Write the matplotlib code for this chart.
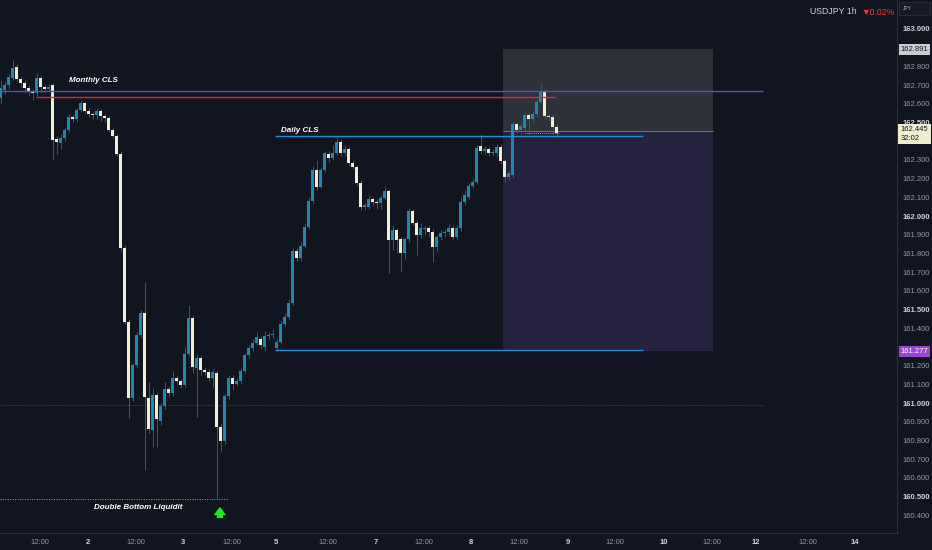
import matplotlib.pyplot as plt
from matplotlib.patches import Rectangle
import numpy as np

plt.rcParams['font.family'] = ['Liberation Sans', 'DejaVu Sans']

# hourly USDJPY candles
opens = [162.631, 162.675, 162.700, 162.738, 162.797, 162.733, 162.711, 162.684, 162.668, 162.658,
         162.738, 162.690, 162.681, 162.701, 162.412, 162.391, 162.417, 162.460, 162.529, 162.519,
         162.567, 162.604, 162.561, 162.545, 162.540, 162.561, 162.535, 162.524, 162.460, 162.428,
         162.332, 161.829, 161.433, 161.027, 161.203, 161.364, 161.481, 161.027, 160.856, 161.043,
         160.904, 160.984, 161.075, 161.053, 161.134, 161.118, 161.096, 161.262, 161.455, 161.187,
         161.241, 161.176, 161.166, 161.134, 161.160, 160.872, 160.797, 161.037, 161.134, 161.102,
         161.118, 161.171, 161.257, 161.294, 161.321, 161.342, 161.299, 161.358, 161.364, 161.294,
         161.326, 161.422, 161.460, 161.535, 161.813, 161.775, 161.840, 161.941, 162.080, 162.246,
         162.155, 162.246, 162.332, 162.310, 162.337, 162.396, 162.337, 162.358, 162.283, 162.262,
         162.176, 162.048, 162.048, 162.091, 162.075, 162.070, 162.096, 162.134, 161.872, 161.925,
         161.877, 161.802, 161.877, 162.027, 161.963, 161.898, 161.930, 161.936, 161.914, 161.834,
         161.888, 161.909, 161.914, 161.936, 161.888, 161.936, 162.075, 162.100, 162.160, 162.182,
         162.374, 162.348, 162.358, 162.337, 162.337, 162.369, 162.294, 162.209, 162.219, 162.492,
         162.460, 162.471, 162.540, 162.519, 162.545, 162.610, 162.668, 162.535, 162.529, 162.476]
closes = [162.684, 162.700, 162.743, 162.791, 162.733, 162.711, 162.684, 162.668, 162.658, 162.738,
          162.690, 162.681, 162.690, 162.406, 162.396, 162.417, 162.460, 162.529, 162.519, 162.567,
          162.604, 162.561, 162.545, 162.540, 162.561, 162.535, 162.524, 162.460, 162.428, 162.332,
          161.829, 161.433, 161.027, 161.203, 161.364, 161.481, 161.032, 160.861, 161.043, 160.914,
          160.984, 161.075, 161.053, 161.134, 161.118, 161.096, 161.262, 161.455, 161.193, 161.241,
          161.176, 161.166, 161.134, 161.166, 160.872, 160.797, 161.037, 161.134, 161.102, 161.118,
          161.171, 161.257, 161.294, 161.321, 161.353, 161.310, 161.358, 161.364, 161.370, 161.326,
          161.422, 161.460, 161.535, 161.813, 161.775, 161.840, 161.941, 162.080, 162.246, 162.155,
          162.246, 162.337, 162.310, 162.337, 162.396, 162.337, 162.358, 162.283, 162.262, 162.176,
          162.048, 162.059, 162.091, 162.075, 162.070, 162.096, 162.134, 161.872, 161.925, 161.872,
          161.802, 161.877, 162.027, 161.963, 161.898, 161.936, 161.936, 161.914, 161.834, 161.888,
          161.909, 161.914, 161.936, 161.888, 161.936, 162.075, 162.112, 162.160, 162.182, 162.364,
          162.348, 162.358, 162.337, 162.342, 162.369, 162.294, 162.209, 162.230, 162.492, 162.460,
          162.481, 162.540, 162.519, 162.545, 162.610, 162.668, 162.535, 162.529, 162.476, 162.444]
highs = [162.727, 162.720, 162.760, 162.834, 162.815, 162.745, 162.725, 162.700, 162.680, 162.765,
         162.750, 162.700, 162.705, 162.712, 162.430, 162.440, 162.470, 162.545, 162.540, 162.580,
         162.620, 162.612, 162.575, 162.555, 162.580, 162.570, 162.545, 162.535, 162.470, 162.440,
         162.345, 161.845, 161.450, 161.215, 161.380, 161.495, 161.647, 161.110, 161.080, 161.060,
         161.000, 161.110, 161.090, 161.170, 161.150, 161.130, 161.300, 161.524, 161.470, 161.260,
         161.255, 161.190, 161.180, 161.180, 161.175, 160.890, 161.050, 161.150, 161.150, 161.135,
         161.185, 161.270, 161.310, 161.345, 161.380, 161.360, 161.385, 161.380, 161.395, 161.340,
         161.440, 161.480, 161.555, 161.830, 161.830, 161.860, 161.960, 162.100, 162.270, 162.300,
         162.260, 162.350, 162.345, 162.380, 162.422, 162.410, 162.380, 162.370, 162.300, 162.275,
         162.190, 162.070, 162.110, 162.100, 162.090, 162.110, 162.160, 162.145, 161.950, 161.935,
         161.890, 161.890, 162.045, 162.040, 161.975, 161.960, 161.950, 161.950, 161.930, 161.900,
         161.925, 161.930, 161.955, 161.950, 161.950, 162.100, 162.140, 162.175, 162.200, 162.380,
         162.440, 162.375, 162.370, 162.360, 162.385, 162.385, 162.305, 162.245, 162.505, 162.505,
         162.495, 162.555, 162.555, 162.560, 162.625, 162.711, 162.680, 162.545, 162.545, 162.490]
lows = [162.604, 162.650, 162.680, 162.725, 162.720, 162.690, 162.660, 162.640, 162.620, 162.640,
        162.660, 162.665, 162.670, 162.299, 162.330, 162.360, 162.400, 162.450, 162.505, 162.505,
        162.555, 162.550, 162.530, 162.520, 162.520, 162.510, 162.505, 162.450, 162.415, 162.320,
        161.810, 161.420, 160.920, 161.010, 161.190, 161.350, 160.642, 160.840, 160.765, 160.765,
        160.880, 160.970, 161.030, 161.040, 161.100, 161.080, 161.085, 161.250, 161.160, 160.925,
        161.150, 161.150, 161.120, 161.080, 160.492, 160.740, 160.780, 161.020, 161.070, 161.090,
        161.100, 161.160, 161.245, 161.280, 161.310, 161.290, 161.285, 161.345, 161.350, 161.280,
        161.315, 161.410, 161.450, 161.525, 161.760, 161.760, 161.830, 161.930, 162.070, 162.140,
        162.150, 162.235, 162.290, 162.300, 162.325, 162.320, 162.320, 162.270, 162.250, 162.160,
        162.030, 162.030, 162.035, 162.060, 162.040, 162.040, 162.085, 161.695, 161.820, 161.800,
        161.700, 161.770, 161.860, 161.950, 161.790, 161.880, 161.900, 161.890, 161.754, 161.815,
        161.870, 161.890, 161.900, 161.870, 161.875, 161.920, 162.060, 162.090, 162.150, 162.170,
        162.330, 162.330, 162.320, 162.320, 162.320, 162.280, 162.180, 162.195, 162.205, 162.445,
        162.440, 162.455, 162.440, 162.500, 162.530, 162.600, 162.520, 162.510, 162.440, 162.430]

# time axis (positions in bar units)
tick_pos = [9.8, 21.75, 33.8, 45.65, 57.75, 68.75, 81.75, 93.75, 105.75, 117.6,
            129.65, 141.75, 153.65, 165.75, 177.75, 188.8, 201.75, 213.65]
tick_labels = ['12:00', '2', '12:00', '3', '12:00', '5', '12:00', '7', '12:00', '8',
               '12:00', '9', '12:00', '10', '12:00', '12', '12:00', '14']
price_ticks = [160.4, 160.5, 160.6, 160.7, 160.8, 160.9, 161.0, 161.1, 161.2, 161.3,
               161.4, 161.5, 161.6, 161.7, 161.8, 161.9, 162.0, 162.1, 162.2, 162.3,
               162.4, 162.5, 162.6, 162.7, 162.8, 162.9, 163.0]
hidden_ticks = [161.3, 162.4, 162.9]   # covered by the price tags

# drawn levels
monthly_cls = 162.668
red_level = 162.636
daily_cls = 162.428
low_level = 161.285
entry = 162.455
box_top = 162.891
box_bottom = 161.277
dotted_level = 160.989
double_bottom = 160.487
last_price = 162.445

bg = '#10151f'
up_col = '#1f88b0'
down_col = '#f1eed2'
wick_col = '#4a5263'
axis_line = '#2a2e39'

fig = plt.figure(figsize=(9.32, 5.5), dpi=100, facecolor=bg)
ax = fig.add_axes([0, 17 / 550, 897 / 932, 533 / 550])
ax.set_facecolor(bg)
ax.set_xlim(-0.175, 224.1)
ax.set_ylim(160.305, 163.155)

# position tool boxes
ax.add_patch(Rectangle((125.6, entry), 52.5, box_top - entry, facecolor='#ffffff', alpha=0.12, lw=0, zorder=1))
ax.add_patch(Rectangle((125.6, box_bottom), 52.5, entry - box_bottom, facecolor='#7e57c2', alpha=0.2, lw=0, zorder=1))
ax.hlines(entry, 125.6, 178.1, color='#9a9aa8', lw=0.7, alpha=0.7, zorder=2)

# candles
x = np.arange(len(opens))
o = np.array(opens)
c = np.array(closes)
cols = [up_col if cc >= oo else down_col for oo, cc in zip(o, c)]
ax.vlines(x, lows, highs, color=wick_col, lw=0.7, zorder=3)
ax.bar(x, np.maximum(np.abs(c - o), 0.006), bottom=np.minimum(o, c), width=0.75, color=cols, lw=0, zorder=4)

# level lines
ax.hlines(monthly_cls, -0.2, 190.6, color='#5a4ed0', lw=1.0, zorder=5)
ax.hlines(red_level, 8.8, 138.8, color='#e8233a', lw=1.0, zorder=5)
ax.hlines(daily_cls, 68.6, 160.6, color='#1f8fd6', lw=1.0, zorder=5)
ax.hlines(low_level, 68.6, 160.6, color='#1f8fd6', lw=1.0, zorder=5)
ax.hlines(dotted_level, -0.2, 190.6, color='#5d6270', lw=0.6, linestyles=(0, (1, 2)), zorder=2)
ax.hlines(double_bottom, -0.2, 56.8, color='#9ea2ad', lw=0.7, linestyles=(0, (1, 1.5)), zorder=5)
ax.hlines(last_price, 131, 139.5, color='#c8c6b0', lw=0.6, linestyles=(0, (1, 1.5)), zorder=5)

txt = dict(color='white', fontsize=5.8, fontstyle='italic', fontweight='bold', zorder=6)
ax.text(17.0, 162.725, 'Monthly CLS', ha='left', va='center', **txt)
ax.text(70.0, 162.455, 'Daily CLS', ha='left', va='center', **txt)
ax.text(34.5, 160.44, 'Double Bottom Liquidit', ha='center', va='center', **txt)

ax.annotate('', xy=(54.8, 160.46), xytext=(54.8, 160.37),
            arrowprops=dict(arrowstyle='simple,head_width=0.9,head_length=0.6,tail_width=0.45',
                            color='#22e622', lw=0), zorder=6)

# axes styling
for s in ['top', 'left']:
    ax.spines[s].set_visible(False)
for s in ['right', 'bottom']:
    ax.spines[s].set_color(axis_line)
    ax.spines[s].set_linewidth(0.8)

ax.yaxis.tick_right()
ax.set_yticks(price_ticks)
ax.set_yticklabels(['' if p in hidden_ticks else f'{p:.3f}' for p in price_ticks])
ax.tick_params(axis='y', length=0, pad=4, labelsize=5.5, colors='#9598a1')
for lab, p in zip(ax.get_yticklabels(), price_ticks):
    if abs(p * 2 - round(p * 2)) < 1e-6:
        lab.set_fontweight('bold')
        lab.set_color('#d1d4dc')

ax.set_xticks(tick_pos)
ax.set_xticklabels(tick_labels)
ax.tick_params(axis='x', length=0, pad=4, labelsize=5.5, colors='#9598a1')
for lab in ax.get_xticklabels():
    if lab.get_text() != '12:00':
        lab.set_fontweight('bold')
        lab.set_color('#d1d4dc')

# price axis tags
yt = ax.get_yaxis_transform()
ax.text(1.004, box_top, f'{box_top:.3f}', transform=yt, ha='left', va='center', fontsize=5.5,
        color='#131722', clip_on=False, zorder=7,
        bbox=dict(boxstyle='square,pad=0.25', facecolor='#c9ccd3', edgecolor='none'))
ax.text(1.004, 162.48, f'{last_price:.3f}\n32:02', transform=yt, ha='left', va='top', fontsize=5.5,
        color='#131722', clip_on=False, zorder=7, linespacing=1.3,
        bbox=dict(boxstyle='square,pad=0.3', facecolor='#f0edd0', edgecolor='none'))
ax.text(1.004, box_bottom, f'{box_bottom:.3f}', transform=yt, ha='left', va='center', fontsize=5.5,
        color='white', clip_on=False, zorder=7,
        bbox=dict(boxstyle='square,pad=0.25', facecolor='#9b45d1', edgecolor='none'))

# header
fig.text(857 / 932, 1 - 12 / 550, 'USDJPY 1h', ha='right', va='center', fontsize=6.3, color='#d1d4dc')
fig.text(861 / 932, 1 - 12 / 550, '▼0.02%', ha='left', va='center', fontsize=6.3, color='#f23645',
         family=['Liberation Sans', 'DejaVu Sans'])
fig.patches.append(Rectangle((899 / 932, 1 - 15 / 550), 31 / 932, 13 / 550, transform=fig.transFigure,
                             facecolor='#161b26', edgecolor=axis_line, lw=0.6))
fig.text(903 / 932, 1 - 8 / 550, 'JPY', ha='left', va='center', fontsize=3.5, color='#b2b5be')

plt.savefig('out.png', dpi=100, facecolor=bg)
